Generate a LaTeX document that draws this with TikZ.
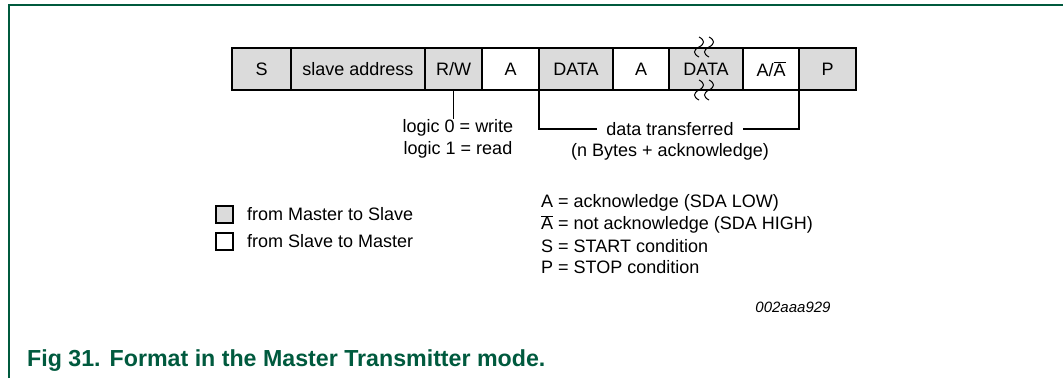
\documentclass[tikz,border=0pt]{standalone}
\usepackage{fontspec}
\setmainfont{Liberation Sans}
\usetikzlibrary{positioning}
\definecolor{nxpgreen}{RGB}{0,90,62}
\definecolor{mastergray}{gray}{0.86}
\tikzset{
	field/.style={draw=black, line width=2pt, minimum height=42pt, inner sep=0pt, outer sep=0pt, font=\fontsize{18}{22}\selectfont},
	mfield/.style={field, fill=mastergray},
	sfield/.style={field, fill=white},
	keybox/.style={draw=black, line width=2pt, minimum width=17pt, minimum height=17pt, inner sep=0pt, outer sep=0pt},
	txt/.style={inner sep=0pt, font=\fontsize{18}{22}\selectfont},
}
\def\squiggle(#1,#2){\draw[line width=1pt] (#1,#2-10) .. controls (#1+6,#2-7) and (#1+6,#2-3) .. (#1,#2) .. controls (#1-6,#2+3) and (#1-6,#2+7) .. (#1,#2+10);}
\newcommand{\nack}{$\overline{\mbox{A}}$}

\begin{document}
\begin{tikzpicture}[x=1pt, y=-1pt]
			%%%%% START %%%%%
			\useasboundingbox (0,0) rectangle (1063,378);
			
			\draw[nxpgreen, line width=1.5pt] (9,378) -- (9,5) -- (1063,5);
			
			\node[mfield, minimum width=59pt] (start) at (261.5,69) {S};
			\node[mfield, minimum width=134pt, right=0pt of start] (addr) {slave address};
			\node[mfield, minimum width=57pt, right=0pt of addr] (rw) {R/W};
			\node[sfield, minimum width=57pt, right=0pt of rw] (ack1) {A};
			\node[mfield, minimum width=74pt, right=0pt of ack1] (data1) {DATA};
			\node[sfield, minimum width=56pt, right=0pt of data1] (ack2) {A};
			\node[mfield, minimum width=74pt, right=0pt of ack2] (data2) {DATA};
			\node[sfield, minimum width=56pt, right=0pt of data2] (ackn) {A/\nack};
			\node[mfield, minimum width=57pt, right=0pt of ackn] (stop) {P};
			
			\squiggle(699,47)
			\squiggle(709,47)
			\squiggle(699,90)
			\squiggle(709,90)
			
			\node[txt, align=center] (logic) at (458,139) {logic 0 = write\\logic 1 = read};
			\draw[line width=1pt] (rw.south) -- (rw.south |- logic.north);
			
			\node[txt, inner xsep=9pt] (xfer) at (670,129) {data transferred};
			\node[txt] (nbytes) at (670,152) {(n Bytes + acknowledge)};
			\draw[line width=2pt] (data1.south west) |- (xfer.west);
			\draw[line width=2pt] (stop.south west) |- (xfer.east);
			
			\node[keybox, fill=mastergray] (keyms) at (224,214) {};
			\node[txt, anchor=base west] (keymstxt) at (247,220.5) {from Master to Slave};
			\node[keybox, fill=white] (keysm) at (224,241) {};
			\node[txt, anchor=base west] (keysmtxt) at (247,247.5) {from Slave to Master};
			
			\node[txt, anchor=base west] (defa) at (541,207) {A = acknowledge (SDA LOW)};
			\node[txt, anchor=base west] (defn) at (541,229.5) {\nack\ = not acknowledge (SDA HIGH)};
			\node[txt, anchor=base west] (defs) at (541,252) {S = START condition};
			\node[txt, anchor=base west] (defp) at (541,273.5) {P = STOP condition};
			
			\node[txt, font=\fontsize{15}{18}\selectfont\itshape] (docnum) at (793,307) {002aaa929};
			
			\node[anchor=base west, inner sep=0pt, font=\fontsize{23.2}{27}\selectfont\bfseries, text=nxpgreen] (caption) at (27,366) {Fig 31.\hspace{9pt}Format in the Master Transmitter mode.};
			%%%%% END %%%%%
\end{tikzpicture}
\end{document}
